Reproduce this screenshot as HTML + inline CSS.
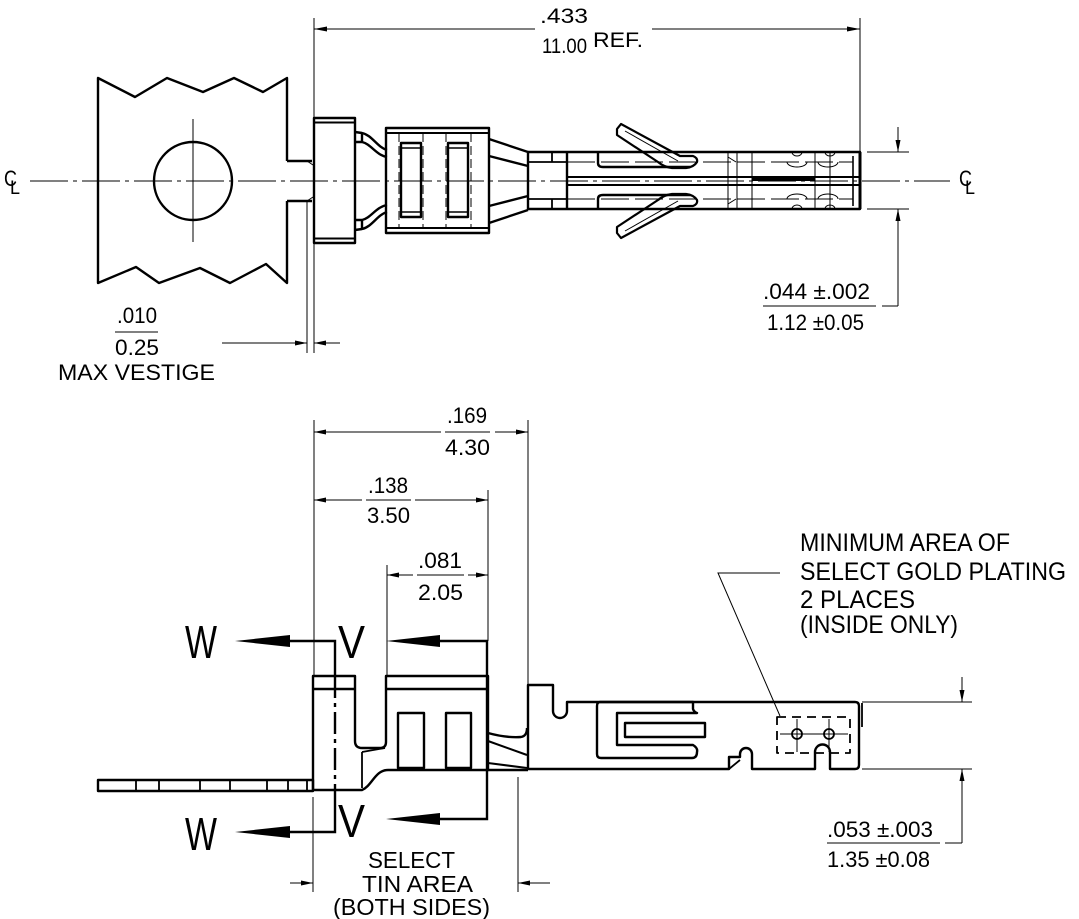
<!DOCTYPE html>
<html><head><meta charset="utf-8"><style>
html,body{margin:0;padding:0;background:#fff;}
svg{display:block;}
text{font-family:"Liberation Sans",sans-serif;fill:#000;}
</style></head><body>
<svg width="1079" height="919" viewBox="0 0 1079 919" xmlns="http://www.w3.org/2000/svg">
<rect x="0" y="0" width="1079" height="919" fill="#fff"/>

<!-- ================= TOP VIEW ================= -->
<line x1="30" y1="181" x2="950" y2="181" stroke="#000" stroke-width="1" stroke-dasharray="38 5 4 5"/>
<text x="4" y="186" font-size="22" textLength="13" lengthAdjust="spacingAndGlyphs">C</text>
<text x="10" y="194" font-size="19" textLength="10" lengthAdjust="spacingAndGlyphs">L</text>
<text x="959" y="186" font-size="22" textLength="13" lengthAdjust="spacingAndGlyphs">C</text>
<text x="965" y="194" font-size="19" textLength="10" lengthAdjust="spacingAndGlyphs">L</text>

<g fill="none" stroke="#000" stroke-width="2.4" stroke-linejoin="round">
  <!-- carrier strip -->
  <path d="M287,161 L287,78 L263,92 L234,78 L203,92 L167,78 L135,97 L98,78 L98,283 L136,267 L159,283 L200,268 L230,283 L266,264 L287,283 L287,201"/>
  <path d="M287,161 L312,161 M287,201 L312,201"/>
  <circle cx="193" cy="181" r="39"/>
  <!-- flange -->
  <rect x="314" y="118" width="41" height="125"/>
  <line x1="314" y1="122.5" x2="355" y2="122.5" stroke-width="2"/>
  <line x1="314" y1="238.5" x2="355" y2="238.5" stroke-width="2"/>
  <!-- neck -->
  <path d="M355,132 L362,133 C372,135 377,147 387,150"/>
  <path d="M355,142 L362,142 C371,144 376,155 387,157"/>
  <line x1="362" y1="133" x2="362" y2="142"/>
  <path d="M355,230 L362,229 C372,227 377,215 387,212"/>
  <path d="M355,220 L362,220 C371,218 376,207 387,205"/>
  <line x1="362" y1="229" x2="362" y2="220"/>
  <!-- barrel -->
  <rect x="386" y="128" width="103" height="105"/>
  <line x1="386" y1="133" x2="489" y2="133" stroke-width="2"/>
  <line x1="386" y1="228" x2="489" y2="228" stroke-width="2"/>
  <rect x="401" y="143" width="20" height="74"/>
  <rect x="448" y="143" width="20" height="74"/>
  <line x1="401" y1="148" x2="421" y2="148" stroke-width="1.6"/>
  <line x1="401" y1="212" x2="421" y2="212" stroke-width="1.6"/>
  <line x1="448" y1="148" x2="468" y2="148" stroke-width="1.6"/>
  <line x1="448" y1="212" x2="468" y2="212" stroke-width="1.6"/>
  <!-- taper -->
  <line x1="489" y1="139" x2="528" y2="152"/>
  <line x1="489" y1="156" x2="528" y2="166"/>
  <line x1="489" y1="223" x2="528" y2="210"/>
  <line x1="489" y1="206" x2="528" y2="196"/>
  <!-- pin -->
  <path d="M528,152 L860,152 L860,209 L528,209 Z"/>
  <line x1="567" y1="152" x2="567" y2="209"/>
  <line x1="528" y1="162" x2="567" y2="162" stroke-width="1.8"/>
  <line x1="528" y1="199" x2="567" y2="199" stroke-width="1.8"/>
  <line x1="552" y1="152" x2="552" y2="162" stroke-width="1.8"/>
  <line x1="552" y1="199" x2="552" y2="209" stroke-width="1.8"/>
  <line x1="567" y1="177" x2="860" y2="177" stroke-width="2"/>
  <line x1="567" y1="185" x2="860" y2="185" stroke-width="2"/>
  <line x1="752" y1="179.5" x2="815" y2="179.5" stroke-width="3"/>
  <!-- slots under fingers -->
  <path d="M598,153 L598,163 Q598,167 603,167 L690,167"/>
  <path d="M598,209 L598,199 Q598,195 603,195 L690,195"/>
  <!-- fingers -->
  <path d="M617,129 L621,124 L680,156 L693,156 Q698,158 697,162 Q694,167 686,168 L672,168 Q664,167 658,162 L617,135 Z" stroke-width="2.2"/>
  <path d="M617,233 L621,238 L680,206 L693,206 Q698,204 697,200 Q694,195 686,194 L672,194 Q664,195 658,200 L617,227 Z" stroke-width="2.2"/>
  <!-- right end -->
  <line x1="853" y1="156" x2="853" y2="206" stroke-width="1.6"/>
  <line x1="860" y1="152" x2="860" y2="209" stroke-width="3"/>
</g>
<g fill="none" stroke="#000" stroke-width="1">
  <line x1="193" y1="119" x2="193" y2="242"/>
  <line x1="399" y1="133" x2="399" y2="228" stroke-dasharray="9 4"/>
  <line x1="423" y1="133" x2="423" y2="228" stroke-dasharray="9 4"/>
  <line x1="446" y1="133" x2="446" y2="228" stroke-dasharray="9 4"/>
  <line x1="471" y1="133" x2="471" y2="228" stroke-dasharray="9 4"/>
  <line x1="567" y1="162" x2="853" y2="162" stroke-dasharray="28 6"/>
  <line x1="567" y1="199" x2="853" y2="199" stroke-dasharray="28 6"/>
  <line x1="625" y1="131" x2="678" y2="161"/>
  <line x1="625" y1="231" x2="678" y2="201"/>
  <line x1="728" y1="152" x2="728" y2="209"/>
  <line x1="737" y1="152" x2="737" y2="209"/>
  <line x1="752" y1="152" x2="752" y2="209"/>
  <line x1="815" y1="152" x2="815" y2="209"/>
  <line x1="830" y1="152" x2="830" y2="209"/>
  <path d="M728,157 L736,162 M728,204 L736,199"/>
  <path d="M787,162 A10,5 0 0 0 807,162 M818,162 A10,5 0 0 0 838,162"/>
  <path d="M792,152 A5,4 0 0 0 802,152 M825,152 A5,4 0 0 0 835,152"/>
  <path d="M787,199 A10,5 0 0 1 807,199 M818,199 A10,5 0 0 1 838,199"/>
  <path d="M792,209 A5,4 0 0 1 802,209 M825,209 A5,4 0 0 1 835,209"/>
  <path d="M307,161 L313,165 M307,201 L313,197"/>
  <!-- extension lines -->
  <line x1="314" y1="18" x2="314" y2="353"/>
  <line x1="860" y1="18" x2="860" y2="152"/>
  <line x1="307" y1="201" x2="307" y2="353"/>
  <line x1="867" y1="152" x2="909" y2="152"/>
  <line x1="867" y1="209" x2="909" y2="209"/>
  <!-- .433 dim -->
  <line x1="314" y1="29" x2="535" y2="29"/>
  <line x1="652" y1="29" x2="860" y2="29"/>
  <!-- .044 dim -->
  <line x1="898" y1="127" x2="898" y2="152"/>
  <line x1="898" y1="209" x2="898" y2="306"/>
  <line x1="882" y1="306" x2="898" y2="306"/>
  <line x1="763" y1="306" x2="876" y2="306"/>
  <!-- vestige dim -->
  <line x1="222" y1="343" x2="307" y2="343"/>
  <line x1="314" y1="343" x2="340" y2="343"/>
  <line x1="115" y1="332" x2="158" y2="332"/>
</g>
<g fill="#000" stroke="none">
  <polygon points="314,29 327,26.5 327,31.5"/>
  <polygon points="860,29 847,26.5 847,31.5"/>
  <polygon points="898,152 895.5,140 900.5,140"/>
  <polygon points="898,209 895.5,221 900.5,221"/>
  <polygon points="307,343 295,340.5 295,345.5"/>
  <polygon points="314,343 326,340.5 326,345.5"/>
</g>

<text x="540" y="23" font-size="21" textLength="48" lengthAdjust="spacingAndGlyphs">.433</text>
<text x="542" y="53" font-size="21" textLength="45" lengthAdjust="spacingAndGlyphs">11.00</text>
<text x="593" y="47" font-size="21" textLength="50" lengthAdjust="spacingAndGlyphs">REF.</text>
<text x="763" y="299" font-size="22" textLength="107" lengthAdjust="spacingAndGlyphs">.044 ±.002</text>
<text x="767" y="330" font-size="22" textLength="97" lengthAdjust="spacingAndGlyphs">1.12 ±0.05</text>
<text x="117" y="323" font-size="22" textLength="40" lengthAdjust="spacingAndGlyphs">.010</text>
<text x="115" y="355" font-size="22" textLength="44" lengthAdjust="spacingAndGlyphs">0.25</text>
<text x="58" y="380" font-size="22" textLength="157" lengthAdjust="spacingAndGlyphs">MAX VESTIGE</text>

<!-- ================= BOTTOM VIEW ================= -->
<g fill="none" stroke="#000" stroke-width="2.4" stroke-linejoin="round">
  <rect x="98" y="780" width="215" height="11"/>
  <path d="M136,780 V791 M159,780 V791 M200,780 V791 M230,780 V791 M267,780 V791 M288,780 V791 M307,780 V791" stroke-width="1.8"/>
  <path d="M313,790 L313,676 L355,676 L355,741 Q355,748 362,748 L380,748 Q386,748 386,742 L386,676 L488,676 L488,770 L388,770"/>
  <line x1="313" y1="689" x2="355" y2="689"/>
  <line x1="386" y1="689" x2="488" y2="689"/>
  <path d="M313,790 L362,790 C372,786 375,770 388,770"/>
  <line x1="362" y1="752" x2="385" y2="748" stroke-width="1.8"/>
  <line x1="362" y1="752" x2="362" y2="788" stroke-width="1.8"/>
  <rect x="398" y="713" width="26" height="55"/>
  <rect x="446" y="713" width="25" height="55"/>
  <path d="M488,733 Q506,738 521,737 Q527,736 527,728"/>
  <line x1="488" y1="741" x2="527" y2="755" stroke-width="2"/>
  <line x1="488" y1="763" x2="527" y2="768" stroke-width="2"/>
  <line x1="488" y1="770" x2="528" y2="770"/>
  <path d="M528,769 L528,685 L553,685 L553,711 A7,7 0 0 0 567,711 L567,702 L855,702 Q859,702 859,706 L859,765 Q859,769 855,769 L830,769 L830,752 A7.5,7.5 0 0 0 815,752 L815,769 L752,769 L752,754 A6,6 0 0 0 740,754 L740,757 L729,757 L729,769 Z"/>
  <line x1="729" y1="769" x2="740" y2="760" stroke-width="1.8"/>
  <line x1="862" y1="703" x2="862" y2="727" stroke-width="1.8"/>
  <path d="M600,702 L693,702 L693,709 Q694,712 697,713 L617,713 L617,745 L693,745 Q698,748 697,752 Q697,758 692,758 L601,758 Q597,758 597,754 L597,706 Q597,702 600,702"/>
  <rect x="625" y="723" width="80" height="14"/>
  <rect x="777" y="717" width="73" height="36" stroke-width="1.8" stroke-dasharray="9 6"/>
  <circle cx="797" cy="734" r="5" stroke-width="1.8"/>
  <circle cx="829" cy="734" r="5" stroke-width="1.8"/>
</g>
<g fill="none" stroke="#000" stroke-width="1">
  <line x1="780" y1="734" x2="848" y2="734"/>
  <line x1="797" y1="719" x2="797" y2="752"/>
  <line x1="829" y1="719" x2="829" y2="752"/>
  <polyline points="780,716 718,573 780,573"/>
  <line x1="314" y1="420" x2="314" y2="676"/>
  <line x1="528" y1="420" x2="528" y2="685"/>
  <line x1="488" y1="490" x2="488" y2="641"/>
  <line x1="387" y1="565" x2="387" y2="676"/>
  <line x1="313" y1="797" x2="313" y2="892"/>
  <line x1="518" y1="777" x2="518" y2="892"/>
  <line x1="862" y1="702" x2="972" y2="702"/>
  <line x1="862" y1="769" x2="972" y2="769"/>
  <line x1="314" y1="432" x2="528" y2="432"/>
  <line x1="314" y1="500" x2="488" y2="500"/>
  <line x1="387" y1="575" x2="488" y2="575"/>
  <line x1="290" y1="883" x2="313" y2="883"/>
  <line x1="518" y1="883" x2="550" y2="883"/>
  <line x1="962" y1="677" x2="962" y2="702"/>
  <line x1="962" y1="769" x2="962" y2="843"/>
  <line x1="945" y1="843" x2="962" y2="843"/>
  <line x1="827" y1="843" x2="940" y2="843"/>
</g>
<g fill="none" stroke="#000" stroke-width="2.4">
  <polyline points="290,641 335,641 335,676"/>
  <line x1="335" y1="676" x2="335" y2="790" stroke-dasharray="22 5 4 5"/>
  <polyline points="335,790 335,832 290,832"/>
  <polyline points="440,641 487,641 487,819 440,819"/>
</g>
<g fill="#000" stroke="none">
  <polygon points="235,641 290,635 290,647"/>
  <polygon points="235,832 290,826 290,838"/>
  <polygon points="386,641 440,635 440,647"/>
  <polygon points="386,819 440,813 440,825"/>
  <polygon points="314,432 326,429.5 326,434.5"/>
  <polygon points="528,432 516,429.5 516,434.5"/>
  <polygon points="314,500 326,497.5 326,502.5"/>
  <polygon points="488,500 476,497.5 476,502.5"/>
  <polygon points="387,575 399,572.5 399,577.5"/>
  <polygon points="488,575 476,572.5 476,577.5"/>
  <polygon points="313,883 301,880.5 301,885.5"/>
  <polygon points="518,883 530,880.5 530,885.5"/>
  <polygon points="962,702 959.5,690 964.5,690"/>
  <polygon points="962,769 959.5,781 964.5,781"/>
</g>
<rect x="441" y="428" width="54" height="8" fill="#fff"/>
<rect x="362" y="496" width="53" height="8" fill="#fff"/>
<rect x="413" y="571" width="55" height="8" fill="#fff"/>
<g stroke="#000" stroke-width="1">
  <line x1="445" y1="432" x2="490" y2="432"/>
  <line x1="366" y1="500" x2="411" y2="500"/>
  <line x1="417" y1="575" x2="464" y2="575"/>
</g>

<text x="447" y="423" font-size="22" textLength="40" lengthAdjust="spacingAndGlyphs">.169</text>
<text x="445" y="455" font-size="22" textLength="45" lengthAdjust="spacingAndGlyphs">4.30</text>
<text x="368" y="493" font-size="22" textLength="40" lengthAdjust="spacingAndGlyphs">.138</text>
<text x="367" y="523" font-size="22" textLength="43" lengthAdjust="spacingAndGlyphs">3.50</text>
<text x="418" y="568" font-size="22" textLength="44" lengthAdjust="spacingAndGlyphs">.081</text>
<text x="418" y="600" font-size="22" textLength="45" lengthAdjust="spacingAndGlyphs">2.05</text>

<text x="185" y="658" font-size="46" textLength="32" lengthAdjust="spacingAndGlyphs">W</text>
<text x="338" y="658" font-size="46" textLength="27" lengthAdjust="spacingAndGlyphs">V</text>
<text x="185" y="850" font-size="46" textLength="32" lengthAdjust="spacingAndGlyphs">W</text>
<text x="338" y="837" font-size="46" textLength="27" lengthAdjust="spacingAndGlyphs">V</text>

<text x="800" y="551" font-size="25" textLength="210" lengthAdjust="spacingAndGlyphs">MINIMUM AREA OF</text>
<text x="800" y="580" font-size="25" textLength="266" lengthAdjust="spacingAndGlyphs">SELECT GOLD PLATING</text>
<text x="800" y="608" font-size="25" textLength="115" lengthAdjust="spacingAndGlyphs">2 PLACES</text>
<text x="800" y="633" font-size="25" textLength="158" lengthAdjust="spacingAndGlyphs">(INSIDE ONLY)</text>

<text x="827" y="837" font-size="22" textLength="106" lengthAdjust="spacingAndGlyphs">.053 ±.003</text>
<text x="827" y="867" font-size="22" textLength="103" lengthAdjust="spacingAndGlyphs">1.35 ±0.08</text>

<text x="368" y="868" font-size="23" textLength="87" lengthAdjust="spacingAndGlyphs">SELECT</text>
<text x="362" y="892" font-size="23" textLength="111" lengthAdjust="spacingAndGlyphs">TIN AREA</text>
<text x="333" y="915" font-size="23" textLength="157" lengthAdjust="spacingAndGlyphs">(BOTH SIDES)</text>
</svg>
</body></html>
